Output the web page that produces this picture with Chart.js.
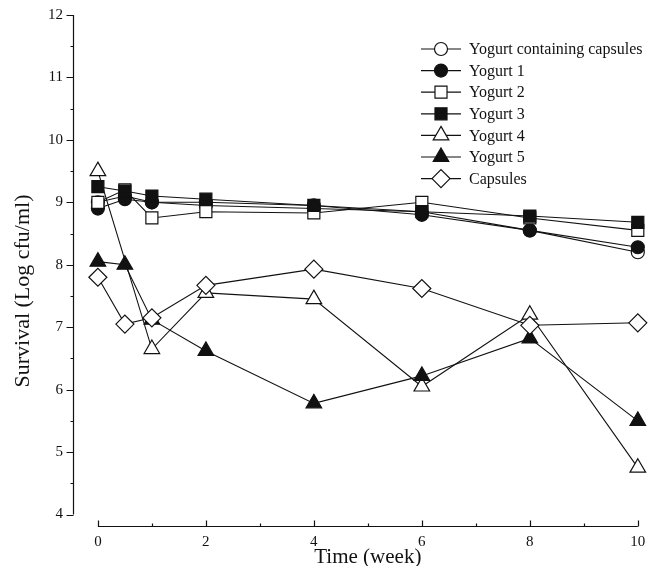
<!DOCTYPE html>
<html>
<head>
<meta charset="utf-8">
<script src="https://cdn.jsdelivr.net/npm/chart.js@4/dist/chart.umd.min.js"></script>
<style>
    html, body { margin: 0; padding: 0; background: #fff; }
    #wrap { width: 648px; height: 566px; }
</style>
</head>
<body>
<div id="wrap"><canvas id="survival"></canvas></div>
<script>
// values (Log cfu/ml)
var weeks = [0, 0.5, 1, 2, 4, 6, 8, 10];
var yogurtCaps = [9.0, 9.1, 9.0, 8.95, 8.9, 8.85, 8.55, 8.2];
var yogurt1 = [8.9, 9.05, 9.0, 9.0, 8.95, 8.8, 8.55, 8.28];
var yogurt2 = [9.0, 9.2, 8.75, 8.85, 8.83, 9.0, 8.75, 8.55];
var yogurt3 = [9.25, 9.18, 9.1, 9.05, 8.95, 8.85, 8.78, 8.68];
var yogurt4 = [9.5, null, 6.65, 7.55, 7.45, 6.05, 7.2, 4.75];
var yogurt5 = [8.05, 8.0, 7.12, 6.62, 5.78, 6.22, 6.82, 5.5];
var capsules = [7.8, 7.05, 7.15, 7.67, 7.93, 7.62, 7.03, 7.07];

var seriesNames = ['Yogurt containing capsules', 'Yogurt 1', 'Yogurt 2', 'Yogurt 3', 'Yogurt 4', 'Yogurt 5', 'Capsules'];
var xTicks = [0, 2, 4, 6, 8, 10];
var yTicks = [4, 5, 6, 7, 8, 9, 10, 11, 12];
var xTitle = 'Time (week)';
var yTitle = 'Survival (Log cfu/ml)';

var ink = '#111';
var serif = '"Liberation Serif", "DejaVu Serif", serif';

const toPoints = (vals) => weeks.map((w, i) => ({ x: w, y: vals[i] }));

// later series sit on top, as in the print
const makeSet = (idx, vals, style, filled, radius) => ({
    label: seriesNames[idx],
    data: toPoints(vals),
    order: seriesNames.length - idx,
    borderColor: ink,
    borderWidth: 1.1,
    pointStyle: style,
    pointRadius: radius,
    pointHoverRadius: radius,
    pointBorderWidth: 1.2,
    pointBorderColor: ink,
    pointBackgroundColor: filled ? ink : '#fff',
    spanGaps: true,
    clip: false,
    tension: 0,
});

// axis lines, tick marks and titles drawn like the printed figure (detached axes)
var paperAxes = {
    id: 'paperAxes',
    afterDraw: (chart) => {
        const ctx = chart.ctx, xs = chart.scales.x, ys = chart.scales.y, area = chart.chartArea;
        ctx.save();
        ctx.strokeStyle = ink;
        ctx.lineWidth = 1.2;
        ctx.beginPath();
        const ax = area.left + 0.5;
        ctx.moveTo(ax, ys.getPixelForValue(yTicks[yTicks.length - 1]));
        ctx.lineTo(ax, ys.getPixelForValue(yTicks[0]));
        for (let i = 0; i < yTicks.length; i++) {
            let py = Math.round(ys.getPixelForValue(yTicks[i])) + 0.5;
            ctx.moveTo(ax - 7, py); ctx.lineTo(ax, py);
            if (i < yTicks.length - 1) {
                py = Math.round(ys.getPixelForValue((yTicks[i] + yTicks[i + 1]) / 2)) + 0.5;
                ctx.moveTo(ax - 3, py); ctx.lineTo(ax, py);
            }
        }
        const ay = area.bottom - 0.5;
        ctx.moveTo(xs.getPixelForValue(xTicks[0]), ay);
        ctx.lineTo(xs.getPixelForValue(xTicks[xTicks.length - 1]), ay);
        for (let i = 0; i < xTicks.length; i++) {
            let px = Math.round(xs.getPixelForValue(xTicks[i])) + 0.5;
            ctx.moveTo(px, ay); ctx.lineTo(px, ay - 6);
            if (i < xTicks.length - 1) {
                px = Math.round(xs.getPixelForValue((xTicks[i] + xTicks[i + 1]) / 2)) + 0.5;
                ctx.moveTo(px, ay); ctx.lineTo(px, ay - 3);
            }
        }
        ctx.stroke();

        ctx.fillStyle = ink;
        ctx.font = '21px ' + serif;
        ctx.textAlign = 'center';
        ctx.textBaseline = 'alphabetic';
        ctx.fillText(xTitle, xs.getPixelForValue((xTicks[0] + xTicks[xTicks.length - 1]) / 2), 563);
        ctx.translate(29, 291);
        ctx.rotate(-Math.PI / 2);
        ctx.font = '22px ' + serif;
        ctx.fillText(yTitle, 0, 0);
        ctx.restore();
    }
};

// legend box in the upper right corner of the plot
var paperLegend = {
    id: 'paperLegend',
    afterDraw: (chart) => {
        const ctx = chart.ctx;
        ctx.save();
        ctx.font = '16px ' + serif;
        ctx.textBaseline = 'middle';
        chart.data.datasets.forEach((ds, i) => {
            const y = 49 + i * 21.6;
            ctx.strokeStyle = ink;
            ctx.lineWidth = 1.2;
            ctx.beginPath();
            ctx.moveTo(421, y); ctx.lineTo(461, y);
            ctx.stroke();
            ctx.fillStyle = ds.pointBackgroundColor;
            ctx.lineWidth = ds.pointBorderWidth;
            Chart.helpers.drawPoint(ctx, { pointStyle: ds.pointStyle, radius: ds.pointRadius, rotation: 0, borderWidth: ds.pointBorderWidth }, 441, y);
            ctx.fillStyle = ink;
            ctx.fillText(ds.label, 469, y + 1);
        });
        ctx.restore();
    }
};

var survivalConfig = {
    type: 'line',
    data: {
        datasets: [
            makeSet(0, yogurtCaps, 'circle', false, 6.5),
            makeSet(1, yogurt1, 'circle', true, 6.5),
            makeSet(2, yogurt2, 'rect', false, 8.5),
            makeSet(3, yogurt3, 'rect', true, 8.5),
            makeSet(4, yogurt4, 'triangle', false, 9),
            makeSet(5, yogurt5, 'triangle', true, 9),
            makeSet(6, capsules, 'rectRot', false, 9),
        ],
    },
    options: {
        responsive: true,
        maintainAspectRatio: false,
        animation: false,
        devicePixelRatio: 1,
        layout: { padding: { top: 15, right: 6, left: 0, bottom: 0 } },
        plugins: {
            legend: { display: false },
            tooltip: { enabled: false },
        },
        scales: {
            x: {
                type: 'linear',
                min: -0.461,
                max: 10,
                afterBuildTicks: (s) => { s.ticks = xTicks.map(v => ({ value: v })); },
                afterFit: (s) => { s.height = 39; s.paddingLeft = 0; s.paddingRight = 0; },
                grid: { display: false, drawTicks: false },
                border: { display: false },
                ticks: { color: ink, padding: 6, font: { family: serif, size: 15 } },
            },
            y: {
                min: 3.8,
                max: 12,
                afterBuildTicks: (s) => { s.ticks = yTicks.map(v => ({ value: v })); },
                afterFit: (s) => { s.width = 73; s.paddingTop = 0; s.paddingBottom = 0; },
                grid: { display: false, drawTicks: false },
                border: { display: false },
                ticks: { color: ink, padding: 10, font: { family: serif, size: 15 } },
            },
        },
    },
    plugins: [paperAxes, paperLegend],
};

var ctxSurvival = document.getElementById('survival');
window.survivalChart = new Chart(ctxSurvival, survivalConfig);
</script>
</body>
</html>
